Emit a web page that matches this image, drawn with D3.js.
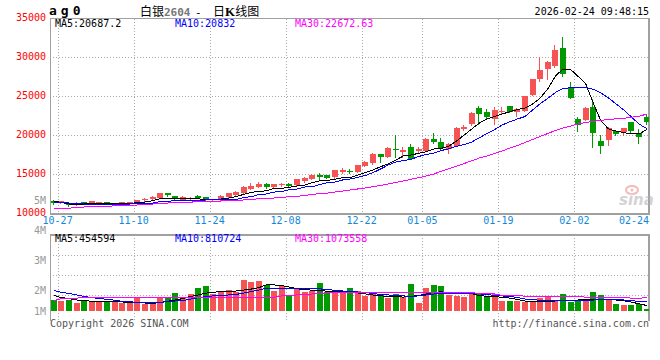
<!DOCTYPE html>
<html><head><meta charset="utf-8">
<script src="https://cdn.jsdelivr.net/npm/d3@7"></script>
<style>
body{margin:0;background:#fff}
svg{display:block}
text{font-family:"DejaVu Sans Mono",monospace;font-size:10px}
</style>
</head><body>
<svg id="c" width="660" height="360"></svg>
<script>
const dates = ["10-24","10-27","10-28","10-29","10-30","10-31",
"11-03","11-04","11-05","11-06","11-07","11-10","11-11","11-12","11-13","11-14",
"11-17","11-18","11-19","11-20","11-21","11-24","11-25","11-26","11-27","11-28",
"12-01","12-02","12-03","12-04","12-05","12-08","12-09","12-10","12-11","12-12",
"12-15","12-16","12-17","12-18","12-19","12-22","12-23","12-24","12-25","12-26",
"12-29","12-30","12-31","01-05","01-06","01-07","01-08","01-09",
"01-12","01-13","01-14","01-15","01-16","01-19","01-20","01-21","01-22","01-23",
"01-26","01-27","01-28","01-29","01-30","02-02","02-03","02-04","02-05","02-06",
"02-09","02-10","02-11","02-12","02-24"];

const open = [11580,11280,11150,11150,11410,11320,11380,11410,11150,11190,
11280,11320,11730,11760,11920,12560,12140,11670,11860,12220,
12010,11670,11760,12090,12310,12600,13080,13370,13680,13370,
13590,13720,13590,14100,14400,14910,14870,14580,15290,15380,
15290,16060,16370,17560,17220,18200,17780,18420,17990,17990,
19490,19140,18200,18590,20770,21370,23420,22990,22010,23080,
23720,22990,23080,25130,27140,28460,28880,31110,26060,22050,
21920,23630,19270,19360,20510,20420,21630,20290,22270];

const close = [11240,11540,11030,11220,11150,11500,11410,11190,11280,11410,
11410,11670,11790,12050,12560,12270,11830,12050,11920,11920,
11670,11790,12220,12530,12730,13370,13460,13680,13290,13680,
13680,13460,14360,14530,14910,14650,14530,15510,15510,15260,
16150,16500,17600,17220,18370,18120,18080,16920,18170,19490,
19140,18290,18810,20940,21030,22860,22650,22270,23200,23140,
22990,23330,25000,27140,28330,29320,30900,27820,24780,21280,
23500,20220,18630,20940,20130,20860,20510,19700,21700];

const high = [11670,11600,11220,11410,11470,11600,11450,11450,11320,11450,
11450,11710,11960,12120,12600,12600,12180,12120,12050,12270,
12050,11830,12270,12560,12780,13500,13810,13940,13810,13760,
13880,13810,14400,14650,14960,15170,14910,15550,15730,15600,
16190,16630,17650,17600,18500,20000,18500,18850,18420,19580,
20220,19580,18940,21030,21280,22950,23720,23290,23550,23550,
23780,23400,25060,27240,29960,29520,31540,32520,26830,22350,
23590,24610,20000,21030,20580,20940,21700,20770,22560];

const low = [11150,11220,10900,11030,11090,11280,11350,11150,11120,11150,
11240,11280,11600,11710,11880,12180,11790,11630,11760,11860,
11630,11630,11710,12050,12270,12560,13040,13330,13240,13330,
13420,13420,13550,13940,14360,14230,14490,14530,15090,15090,
15260,15990,16320,16580,17180,17220,17140,16920,17820,17950,
18940,18200,17730,18550,20580,21320,21410,22010,21370,22690,
22950,22440,23040,25090,26960,27140,28760,27560,24740,20550,
21880,18420,17730,18720,20060,20000,20290,18940,21370];

const ma5 = [11500,11370,11150,11150,11150,11240,11190,11190,11220,11240,
11240,11320,11410,11580,11830,11920,11830,11880,11920,11830,
11670,11730,11790,11920,12090,12400,12650,12760,12860,13170,
13170,13290,13460,13590,13880,14140,14170,14320,14530,14530,
14870,15170,15510,15940,16280,16790,17310,17440,17650,17860,
18200,18290,18590,19230,20000,20770,21540,22050,22370,22690,
22990,23270,23460,23970,24740,25900,27560,28460,28400,27500,
26540,24060,21790,20770,20510,20320,20130,20130,20690];

const ma10 = [11410,11350,11280,11220,11150,11120,11060,11060,11090,11150,
11150,11190,11190,11280,11450,11500,11580,11580,11580,11630,
11670,11670,11670,11670,11730,11990,12090,12370,12440,12690,
12730,13010,13080,13330,13370,13650,13880,13970,14230,14360,
14580,14810,15170,15640,16150,16540,16730,16880,17240,17500,
17690,18010,18240,18550,18780,19100,19650,20190,20700,21280,
21700,22050,22370,23200,24010,24700,25450,25960,26060,26110,
26090,25860,25380,24740,23970,23200,22310,21410,20830];

const ma30 = [10510,10600,10620,10710,10770,10790,10860,10870,10910,10940,
10960,11030,11090,11150,11240,11280,11350,11370,11400,11440,
11470,11500,11540,11580,11630,11670,11730,11830,11880,11920,
11990,12090,12140,12240,12400,12470,12560,12690,12820,12950,
13080,13210,13370,13530,13720,13910,14100,14320,14530,14740,
15000,15350,15680,15990,16350,16700,17050,17310,17630,17950,
18330,18650,19040,19420,19810,20190,20580,20900,21150,21410,
21600,21770,21880,21990,22080,22150,22270,22410,22670];

const volume = [930000,770000,930000,660000,850000,850000,710000,790000,830000,660000,
660000,1040000,530000,660000,1070000,1040000,1470000,1070000,1340000,1850000,
1990000,1390000,1520000,1740000,1580000,2550000,2310000,2470000,2120000,1660000,
1990000,1200000,1800000,1560000,1660000,2230000,1520000,1660000,1520000,1850000,
1660000,1200000,1390000,1310000,1040000,1390000,1120000,2150000,660000,1850000,
2070000,1990000,1260000,1200000,1120000,1340000,1390000,1180000,1390000,770000,
850000,770000,710000,770000,1040000,1180000,850000,1340000,710000,930000,
930000,1580000,1260000,990000,600000,450000,450000,600000,170000];

const vma5 = [1260000,1090000,1010000,890000,830000,800000,770000,750000,740000,730000,
720000,690000,650000,610000,690000,790000,890000,1010000,1180000,1300000,
1440000,1530000,1560000,1580000,1620000,1700000,1780000,1900000,2120000,2110000,
2070000,1940000,1800000,1740000,1690000,1660000,1600000,1620000,1560000,1500000,
1460000,1380000,1300000,1230000,1190000,1150000,1130000,1180000,1260000,1380000,
1500000,1560000,1470000,1390000,1390000,1390000,1260000,1180000,1150000,1120000,
1050000,930000,810000,730000,730000,770000,810000,830000,850000,890000,
920000,930000,960000,970000,890000,830000,730000,580000,450000];

const vma10 = [1660000,1520000,1420000,1300000,1180000,1090000,1010000,950000,870000,790000,
750000,690000,660000,660000,690000,770000,810000,850000,970000,1070000,
1180000,1220000,1260000,1300000,1340000,1460000,1580000,1700000,1850000,1850000,
1820000,1800000,1800000,1800000,1800000,1800000,1720000,1690000,1620000,1580000,
1540000,1500000,1420000,1340000,1300000,1260000,1220000,1200000,1220000,1300000,
1380000,1390000,1390000,1390000,1390000,1390000,1390000,1340000,1260000,1220000,
1180000,1090000,970000,910000,880000,870000,850000,850000,850000,850000,
850000,890000,930000,930000,930000,890000,850000,770000,810000];

const vma30 = [850000,990000,1030000,1050000,1070000,1070000,1070000,1070000,1070000,1070000,
1070000,1070000,1070000,1070000,1070000,1070000,1070000,1070000,1070000,1070000,
1070000,1120000,1120000,1120000,1120000,1120000,1120000,1120000,1120000,1120000,
1220000,1260000,1300000,1340000,1380000,1420000,1460000,1520000,1520000,1520000,
1520000,1520000,1520000,1520000,1520000,1520000,1520000,1520000,1520000,1520000,
1520000,1520000,1520000,1520000,1520000,1520000,1390000,1390000,1390000,1260000,
1260000,1260000,1200000,1200000,1200000,1180000,1180000,1180000,1180000,1180000,
1120000,1120000,1120000,1120000,1120000,1120000,1040000,1040000,1070000];

const priceTicks = [10000,15000,20000,25000,30000,35000];
const priceGrid = [15000,20000,25000,30000];
const volLabelTicks = [1,2,3,4,5];
const dateTicks = ["10-27","11-10","11-24","12-08","12-22","01-05","01-19","02-02"];
const priceLegend = ["20687.2","20832","22672.63"];
const volLegend = ["454594","810724","1073558"];
const maNames = ["MA5","MA10","MA30"];

// ---------- drawing ----------
const RED = "#f65454", GREEN = "#009a00";
const MA_COLORS = ["#000000","#0000ff","#ff00ff"];
const GRID = "#a8a8a8", FRAME = "#a0a0a0";

const svg = d3.select("#c");
const L = 50, R = 649;
const x = d3.scaleBand().domain(dates).range([L, L + 7.6 * dates.length]).padding(0);
const y = d3.scaleLinear().domain([10000, 35000]).range([213, 18]);
const yv = d3.scaleLinear().domain([0, 6.24e6]).range([311, 234]);
const yvLab = d3.scaleLinear().domain(volLabelTicks).range([311, 290.7, 260.7, 230, 200.3]);
const yvGrid = d3.scaleLinear().domain([0, 4]).range([315, 235]);
const cx = d => x(d) + x.bandwidth() / 2;
const bx = d => Math.round(x(d) + 0.8);

const defs = svg.append("defs");
defs.append("clipPath").attr("id","cp").append("rect").attr("x",L+1).attr("y",19).attr("width",R-L-1).attr("height",194);
defs.append("clipPath").attr("id","cv").append("rect").attr("x",L+1).attr("y",235).attr("width",R-L-1).attr("height",86);

// grids
const g = svg.append("g").attr("shape-rendering","crispEdges");
g.selectAll(".hg").data(priceGrid).join("line")
  .attr("x1",L).attr("x2",R).attr("y1",d=>Math.round(y(d))+0.5).attr("y2",d=>Math.round(y(d))+0.5)
  .attr("stroke",GRID).attr("stroke-dasharray","1,2");
g.selectAll(".vg").data(dateTicks).join("line")
  .attr("x1",d=>Math.round(x(d))+0.5).attr("x2",d=>Math.round(x(d))+0.5)
  .attr("y1",19).attr("y2",213).attr("stroke",GRID).attr("stroke-dasharray","1,2");
g.selectAll(".vg2").data(dateTicks).join("line")
  .attr("x1",d=>Math.round(x(d))+0.5).attr("x2",d=>Math.round(x(d))+0.5)
  .attr("y1",235).attr("y2",321).attr("stroke",GRID).attr("stroke-dasharray","1,2");
g.selectAll(".hv").data([1,2,3]).join("line")
  .attr("x1",L).attr("x2",R).attr("y1",d=>Math.round(yvGrid(d))+0.5).attr("y2",d=>Math.round(yvGrid(d))+0.5)
  .attr("stroke",GRID).attr("stroke-dasharray","1,2");

// frames
g.append("line").attr("x1",L+0.5).attr("x2",L+0.5).attr("y1",18.5).attr("y2",214).attr("stroke",FRAME);
g.append("line").attr("x1",L).attr("x2",R+1).attr("y1",18.5).attr("y2",18.5).attr("stroke",FRAME);
g.append("line").attr("x1",R).attr("x2",R).attr("y1",18.5).attr("y2",214).attr("stroke",FRAME).attr("stroke-width",2);
g.append("line").attr("x1",L).attr("x2",R+1).attr("y1",213.5).attr("y2",213.5).attr("stroke",FRAME).attr("stroke-width",2);
g.append("line").attr("x1",L+0.5).attr("x2",L+0.5).attr("y1",234.5).attr("y2",321).attr("stroke",FRAME);
g.append("line").attr("x1",L).attr("x2",R+1).attr("y1",234.5).attr("y2",234.5).attr("stroke",FRAME).attr("stroke-width",2);
g.append("line").attr("x1",R).attr("x2",R).attr("y1",234).attr("y2",321).attr("stroke",FRAME).attr("stroke-width",2);

// watermark
const wm = svg.append("g").attr("opacity",0.55);
wm.append("ellipse").attr("cx",632).attr("cy",190).attr("rx",6).attr("ry",4).attr("fill","none").attr("stroke","#f08080").attr("stroke-width",2);
wm.append("circle").attr("cx",632).attr("cy",190).attr("r",1.5).attr("fill","#f08080");
wm.append("text").attr("x",619).attr("y",205).style("font-family","DejaVu Sans").style("font-size","15px")
  .style("font-style","italic").style("font-weight","bold").attr("fill","#b0b0b0").text("sina");

// candles
const cg = svg.append("g").attr("clip-path","url(#cp)").attr("shape-rendering","crispEdges");
const idx = d3.range(dates.length);
const col = i => close[i] >= open[i] ? RED : GREEN;
cg.selectAll(".wick").data(idx).join("line")
  .attr("x1",i=>bx(dates[i])+2.5).attr("x2",i=>bx(dates[i])+2.5)
  .attr("y1",i=>Math.round(y(high[i]))).attr("y2",i=>Math.round(y(low[i]))+1)
  .attr("stroke",col);
cg.selectAll(".body").data(idx).join("rect")
  .attr("x",i=>bx(dates[i])).attr("width",6)
  .attr("y",i=>Math.round(y(Math.max(open[i],close[i]))))
  .attr("height",i=>Math.max(1, Math.round(y(Math.min(open[i],close[i]))) - Math.round(y(Math.max(open[i],close[i])))))
  .attr("fill",col);

// price MA lines
const line = d3.line().x((d,i)=>cx(dates[i])).y(d=>y(d));
[ma5, ma10, ma30].forEach((s,k)=>{
  cg.append("path").datum(s).attr("d",line).attr("fill","none").attr("stroke",MA_COLORS[k])
    .attr("stroke-width",1).attr("shape-rendering","crispEdges");
});

// volume bars
const vg = svg.append("g").attr("clip-path","url(#cv)").attr("shape-rendering","crispEdges");
vg.selectAll(".vb").data(idx).join("rect")
  .attr("x",i=>bx(dates[i])).attr("width",6)
  .attr("y",i=>Math.round(yv(volume[i]))).attr("height",i=>311-Math.round(yv(volume[i])))
  .attr("fill",col);
const vline = d3.line().x((d,i)=>cx(dates[i])).y(d=>yv(d));
[vma5, vma10, vma30].forEach((s,k)=>{
  vg.append("path").datum(s).attr("d",vline).attr("fill","none").attr("stroke",MA_COLORS[k])
    .attr("stroke-width",1).attr("shape-rendering","crispEdges");
});

// axes
const ya = svg.append("g").attr("transform",`translate(${L},0)`)
  .call(d3.axisLeft(y).tickValues(priceTicks).tickSize(0).tickPadding(4).tickFormat(d3.format("d")));
ya.select(".domain").remove();
ya.selectAll("text").attr("fill","#ff0000").attr("dy","0.25em").style("font-size","10px").style("font-family","DejaVu Sans Mono");

const va = svg.append("g").attr("transform",`translate(${L},0)`)
  .call(d3.axisLeft(yvLab).tickValues(volLabelTicks).tickSize(0).tickPadding(4).tickFormat(d=>d+"M"));
va.select(".domain").remove();
va.selectAll("text").attr("fill","#999").attr("dy","0.32em").style("font-size","10px").style("font-family","DejaVu Sans Mono");

const allDateTicks = dateTicks.concat([dates[dates.length-1]]);
const xa = svg.append("g").attr("transform",`translate(${-x.bandwidth()/2},213)`)
  .call(d3.axisBottom(x).tickValues(allDateTicks).tickSize(0).tickPadding(0));
xa.select(".domain").remove();
xa.selectAll("text").attr("fill","#1188d8").attr("y",11).attr("dy",0).style("font-size","10px").style("font-family","DejaVu Sans Mono");
xa.selectAll(".tick").filter(d=>d===dates[dates.length-1]).select("text")
  .attr("text-anchor","end").attr("x", R - x(dates[dates.length-1]));

// header
svg.append("text").attr("x",49).attr("y",15).style("font-size","13px").style("font-weight","bold")
  .style("letter-spacing","4px").attr("fill","#000").text("ag0");
const t = svg.append("text").attr("y",16).style("font-size","12px").style("font-family","'Noto Sans CJK SC'");
t.append("tspan").attr("x",140).attr("fill","#000").text("白银");
t.append("tspan").attr("x",164).attr("fill","#777").style("font-family","DejaVu Sans Mono").style("font-weight","bold").style("font-size","11px").text("2604");
t.append("tspan").attr("x",195).attr("fill","#000").style("font-family","DejaVu Sans Mono").style("font-size","11px").text("-");
t.append("tspan").attr("x",213).attr("fill","#000").text("日");
t.append("tspan").attr("fill","#000").style("font-family","'Liberation Serif'").style("font-weight","bold").style("font-size","13px").text("K");
t.append("tspan").attr("fill","#000").text("线图");
svg.append("text").attr("x",649).attr("y",15).attr("text-anchor","end").attr("fill","#000").text("2026-02-24 09:48:15");

// legends
const lx = [55,175,295];
maNames.forEach((n,k)=>{
  svg.append("text").attr("x",lx[k]).attr("y",27).attr("fill",MA_COLORS[k]).text(n+":"+priceLegend[k]);
  svg.append("text").attr("x",lx[k]).attr("y",242).attr("fill",MA_COLORS[k]).text(n+":"+volLegend[k]);
});

// footer
svg.append("text").attr("x",50).attr("y",327).attr("fill","#555").text("Copyright 2026 SINA.COM");
svg.append("text").attr("x",649).attr("y",327).attr("text-anchor","end").attr("fill","#555").text("http://finance.sina.com.cn");
</script>
</body></html>
